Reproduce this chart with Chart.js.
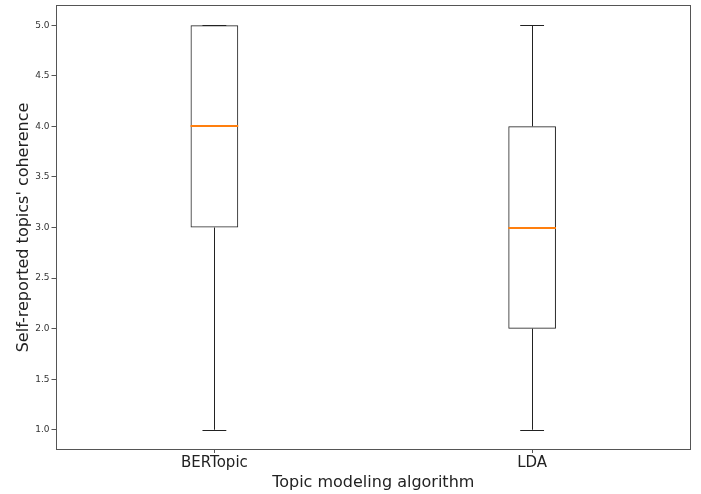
<!DOCTYPE html>
<html>
<head>
<meta charset="utf-8">
<script src="https://cdn.jsdelivr.net/npm/chart.js@4/dist/chart.umd.min.js"></script>
<style>
  html, body { margin: 0; padding: 0; background: #fff; }
  #wrap { width: 701px; height: 494px; }
</style>
</head>
<body>
<div id="wrap"><canvas id="box"></canvas></div>
<script>
// box plot data per algorithm
const algorithms = ['BERTopic', 'LDA'];
const whiskerLow = [1, 1];
const q1 = [3, 2];
const medians = [4, 3];
const q3 = [5, 4];
const whiskerHigh = [5, 5];
const yTicks = [1.0, 1.5, 2.0, 2.5, 3.0, 3.5, 4.0, 4.5, 5.0];

const font = "'DejaVu Sans', sans-serif";

// whiskers, caps and median lines, drawn through the chart scales
const boxExtras = {
  id: 'boxExtras',
  afterDatasetsDraw(chart) {
    const { ctx, scales: { x, y } } = chart;
    const meta = chart.getDatasetMeta(0);
    ctx.save();
    algorithms.forEach((name, i) => {
      const bar = meta.data[i];
      const cx = x.getPixelForValue(i);
      const half = bar.width / 2;
      const cap = half / 2;
      const yLo = y.getPixelForValue(whiskerLow[i]);
      const yHi = y.getPixelForValue(whiskerHigh[i]);
      const yQ1 = y.getPixelForValue(q1[i]);
      const yQ3 = y.getPixelForValue(q3[i]);
      const yMed = y.getPixelForValue(medians[i]);

      ctx.strokeStyle = '#222';
      ctx.lineWidth = 1;
      ctx.beginPath();
      ctx.moveTo(Math.round(cx) + 0.5, yQ1); ctx.lineTo(Math.round(cx) + 0.5, yLo);
      ctx.moveTo(Math.round(cx) + 0.5, yQ3); ctx.lineTo(Math.round(cx) + 0.5, yHi);
      ctx.moveTo(cx - cap, Math.round(yLo) + 0.5); ctx.lineTo(cx + cap, Math.round(yLo) + 0.5);
      ctx.moveTo(cx - cap, Math.round(yHi) + 0.5); ctx.lineTo(cx + cap, Math.round(yHi) + 0.5);
      ctx.stroke();

      ctx.strokeStyle = '#ff7f0e';
      ctx.lineWidth = 2;
      ctx.beginPath();
      ctx.moveTo(cx - half, Math.round(yMed)); ctx.lineTo(cx + half, Math.round(yMed));
      ctx.stroke();
    });
    ctx.restore();
  }
};

// full axes frame like matplotlib spines
const frame = {
  id: 'frame',
  afterDraw(chart) {
    const { ctx, chartArea: a } = chart;
    ctx.save();
    ctx.strokeStyle = '#555';
    ctx.lineWidth = 1;
    ctx.strokeRect(Math.round(a.left) + 0.5, Math.round(a.top) + 0.5,
      Math.round(a.right - a.left) - 1, Math.round(a.bottom - a.top) - 1);
    ctx.restore();
  }
};

new Chart(document.getElementById('box'), {
  type: 'bar',
  data: {
    labels: algorithms,
    datasets: [{
      data: algorithms.map((_, i) => [q1[i], q3[i]]),
      backgroundColor: 'rgba(0,0,0,0)',
      borderColor: '#222',
      borderWidth: 1,
      borderSkipped: false,
      barPercentage: 0.15,
      categoryPercentage: 1,
    }]
  },
  options: {
    responsive: true,
    maintainAspectRatio: false,
    animation: false,
    layout: { padding: { top: 5, right: 10, left: 14, bottom: 3 } },
    plugins: { legend: { display: false }, tooltip: { enabled: false } },
    scales: {
      x: {
        offset: true,
        grid: { display: true, offset: false, drawOnChartArea: false, drawTicks: true, tickLength: 3, color: '#555' },
        border: { display: false },
        ticks: { color: '#222', font: { family: font, size: 15 }, padding: 1 },
        title: { display: true, text: 'Topic modeling algorithm', color: '#222', font: { family: font, size: 16, lineHeight: 1 }, padding: { top: 2, bottom: 0 } }
      },
      y: {
        min: 0.8,
        max: 5.2,
        afterBuildTicks: axis => { axis.ticks = yTicks.map(v => ({ value: v })); },
        afterFit: axis => { axis.paddingTop = 0; axis.paddingBottom = 0; },
        grid: { display: true, drawOnChartArea: false, drawTicks: true, tickLength: 4, color: '#555' },
        border: { display: false },
        ticks: { color: '#333', font: { family: font, size: 9 }, padding: 2, callback: v => Number(v).toFixed(1) },
        title: { display: true, text: "Self-reported topics' coherence", color: '#222', font: { family: font, size: 16 }, padding: { top: 0, bottom: 0 } }
      }
    }
  },
  plugins: [boxExtras, frame]
});
</script>
</body>
</html>
